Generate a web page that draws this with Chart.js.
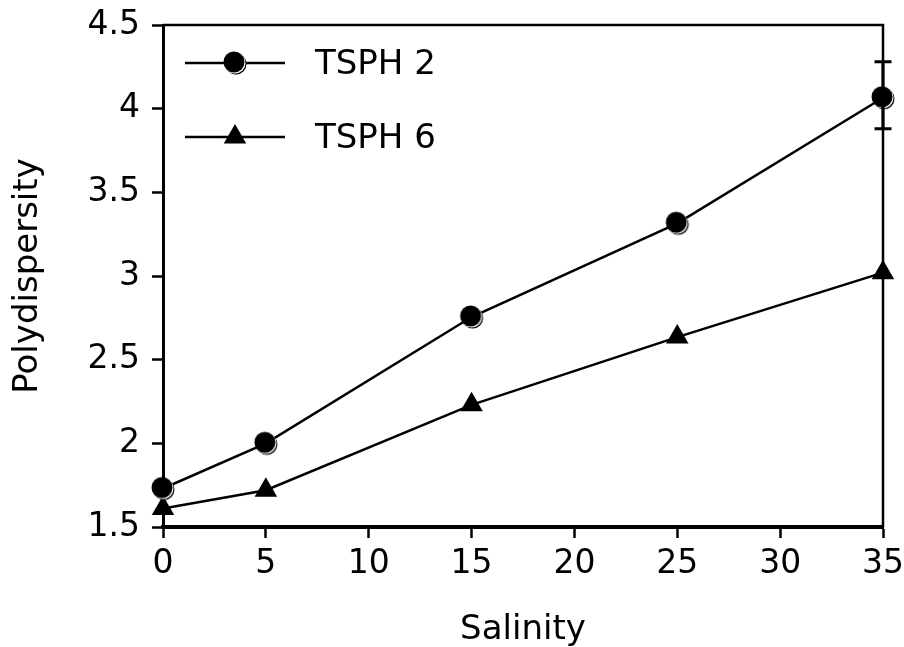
<!DOCTYPE html>
<html>
<head>
<meta charset="utf-8">
<script src="https://cdn.jsdelivr.net/npm/chart.js@4.4.1/dist/chart.umd.min.js"></script>
<style>
  html, body { margin: 0; padding: 0; background: #fff; }
  #wrap { width: 904px; height: 647px; position: relative; }
</style>
</head>
<body>
<div id="wrap"><canvas id="chart"></canvas></div>
<script>
// salinity levels and polydispersity readings
const salinity = [0, 5, 15, 25, 35];
const tsph2 = [1.73, 2.00, 2.755, 3.315, 4.065];
const tsph6 = [1.61, 1.72, 2.23, 2.635, 3.02];
// error bar ends for TSPH 2 (only the last point has one)
const tsph2Low = [null, null, null, null, 3.88];
const tsph2High = [null, null, null, null, 4.28];

const xTicks = [0, 5, 10, 15, 20, 25, 30, 35];
const yTicks = [1.5, 2, 2.5, 3, 3.5, 4, 4.5];
const yTickLabels = ['1.5', '2', '2.5', '3', '3.5', '4', '4.5'];
const seriesNames = ['TSPH 2', 'TSPH 6'];

const FONT = 'DejaVu Sans, Verdana, sans-serif';

// black disc with a shifted outline behind it
function makeCircleMarker() {
    const c = document.createElement('canvas');
    c.width = 32; c.height = 32;
    const g = c.getContext('2d');
    const m = 15, r = 10.5;
    g.fillStyle = '#000';
    g.beginPath(); g.arc(m + 2, m + 2, r, 0, Math.PI * 2); g.fill();
    g.fillStyle = '#fff';
    g.beginPath(); g.arc(m + 1, m + 1, r, 0, Math.PI * 2); g.fill();
    g.fillStyle = '#000';
    g.beginPath(); g.arc(m, m, r, 0, Math.PI * 2); g.fill();
    return c;
}
const circleMarker = makeCircleMarker();

// box around the plot area
const frame = {
    id: 'frame',
    afterDatasetsDraw(chart) {
        const { ctx, chartArea: a } = chart;
        ctx.save();
        ctx.strokeStyle = '#000';
        ctx.lineWidth = 2.5;
        ctx.beginPath();
        ctx.moveTo(a.left, a.top);
        ctx.lineTo(a.right, a.top);
        ctx.lineTo(a.right, a.bottom);
        ctx.stroke();
        ctx.restore();
    }
};

// vertical error bars with caps
const errorBars = {
    id: 'errorBars',
    afterDatasetsDraw(chart) {
        const { ctx, scales: { x, y } } = chart;
        ctx.save();
        ctx.strokeStyle = '#000';
        ctx.lineWidth = 3;
        salinity.forEach((s, i) => {
            if (tsph2Low[i] == null) return;
            const px = x.getPixelForValue(s);
            const lo = y.getPixelForValue(tsph2Low[i]);
            const hi = y.getPixelForValue(tsph2High[i]);
            ctx.beginPath();
            ctx.moveTo(px, lo); ctx.lineTo(px, hi);
            ctx.moveTo(px - 8.5, lo); ctx.lineTo(px + 8.5, lo);
            ctx.moveTo(px - 8.5, hi); ctx.lineTo(px + 8.5, hi);
            ctx.stroke();
        });
        ctx.restore();
    }
};

// legend drawn inside the plot: line, marker, name
const insideLegend = {
    id: 'insideLegend',
    afterDraw(chart) {
        const { ctx } = chart;
        const rows = [63, 137];
        ctx.save();
        chart.data.datasets.forEach((ds, i) => {
            const yy = rows[i];
            ctx.strokeStyle = '#000';
            ctx.lineWidth = 2.5;
            ctx.beginPath();
            ctx.moveTo(185, yy); ctx.lineTo(285, yy);
            ctx.stroke();
            if (ds.pointStyle === 'triangle') {
                const r = 13;
                ctx.fillStyle = '#000';
                ctx.beginPath();
                ctx.moveTo(235, yy - r);
                ctx.lineTo(235 + r * 0.866, yy + r * 0.5);
                ctx.lineTo(235 - r * 0.866, yy + r * 0.5);
                ctx.closePath();
                ctx.fill();
            } else {
                ctx.drawImage(circleMarker, 235 - 16, yy - 16);
            }
            ctx.fillStyle = '#000';
            ctx.font = '34px ' + FONT;
            ctx.textBaseline = 'middle';
            ctx.textAlign = 'left';
            ctx.fillText(ds.label, 315, yy + 2);
        });
        ctx.restore();
    }
};

new Chart(document.getElementById('chart'), {
    type: 'scatter',
    data: {
        datasets: [
            {
                label: seriesNames[0],
                data: salinity.map((s, i) => ({ x: s, y: tsph2[i] })),
                showLine: true,
                borderColor: '#000',
                borderWidth: 2.5,
                pointStyle: circleMarker,
                clip: false
            },
            {
                label: seriesNames[1],
                data: salinity.map((s, i) => ({ x: s, y: tsph6[i] })),
                showLine: true,
                borderColor: '#000',
                borderWidth: 2.5,
                backgroundColor: '#000',
                pointStyle: 'triangle',
                pointRadius: 13,
                pointBorderWidth: 0,
                clip: false
            }
        ]
    },
    options: {
        responsive: true,
        maintainAspectRatio: false,
        animation: false,
        layout: { padding: { top: 25, right: 21, left: 0, bottom: 0 } },
        plugins: {
            legend: { display: false },
            tooltip: { enabled: false }
        },
        scales: {
            x: {
                type: 'linear',
                min: 0,
                max: 35,
                afterBuildTicks: (s) => { s.ticks = xTicks.map(v => ({ value: v })); },
                afterFit: (s) => { s.height = 120; s.paddingLeft = 0; s.paddingRight = 0; },
                grid: { drawOnChartArea: false, tickLength: 11, tickWidth: 2.5, color: '#000' },
                border: { color: '#000', width: 4 },
                ticks: { color: '#000', font: { family: FONT, size: 33 }, padding: 7, maxRotation: 0 },
                title: {
                    display: true,
                    text: 'Salinity',
                    color: '#000',
                    font: { family: FONT, size: 34, lineHeight: 1 },
                    padding: { top: -1, bottom: 0 }
                }
            },
            y: {
                type: 'linear',
                min: 1.5,
                max: 4.5,
                afterBuildTicks: (s) => { s.ticks = yTicks.map(v => ({ value: v })); },
                afterFit: (s) => { s.width = 163; s.paddingTop = 0; s.paddingBottom = 0; },
                grid: { drawOnChartArea: false, tickLength: 11, tickWidth: 2.5, color: '#000' },
                border: { color: '#000', width: 3 },
                ticks: {
                    color: '#000',
                    font: { family: FONT, size: 33 },
                    padding: 12,
                    callback: (v) => yTickLabels[yTicks.indexOf(v)]
                },
                title: {
                    display: true,
                    text: 'Polydispersity',
                    color: '#000',
                    font: { family: FONT, size: 34, lineHeight: 1 },
                    padding: { top: 11, bottom: 0 }
                }
            }
        }
    },
    plugins: [frame, errorBars, insideLegend]
});
</script>
</body>
</html>
